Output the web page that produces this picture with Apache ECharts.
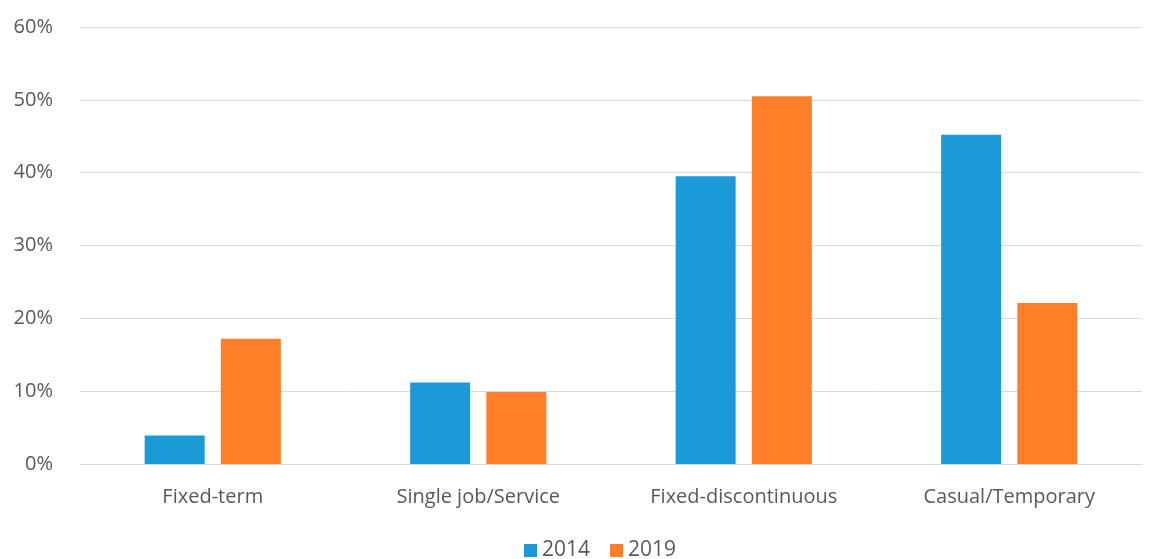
<!DOCTYPE html>
<html>
<head>
<meta charset="utf-8">
<script src="https://cdn.jsdelivr.net/npm/echarts@6/dist/echarts.min.js"></script>
<style>
html,body{margin:0;padding:0;background:#fff;}
#chart{width:1164px;height:559px;}
</style>
</head>
<body>
<div id="chart"></div>
<script>
const categories = ['Fixed-term', 'Single job/Service', 'Fixed-discontinuous', 'Casual/Temporary'];
const values2014 = [3.9, 11.2, 39.5, 45.2];
const values2019 = [17.2, 9.9, 50.5, 22.1];
const seriesNames = ['2014', '2019'];

const FONT = '"Open Sans", "Liberation Sans", sans-serif';
const chart = echarts.init(document.getElementById('chart'));
chart.setOption({
  animation: false,
  backgroundColor: '#ffffff',
  textStyle: { fontFamily: FONT },
  legend: {
    top: 540,
    left: 524,
    padding: 0,
    itemWidth: 13,
    itemHeight: 13,
    itemGap: 20,
    icon: 'rect',
    textStyle: { fontSize: 21, color: '#595959', fontFamily: FONT },
    data: seriesNames
  },
  grid: { left: 80, right: 22, top: 27, bottom: 95, containLabel: false },
  xAxis: {
    type: 'category',
    data: categories,
    axisLine: { show: true, lineStyle: { color: '#d9d9d9', width: 1 } },
    axisTick: { show: false },
    axisLabel: { fontSize: 20, color: '#595959', margin: 23, fontFamily: FONT }
  },
  yAxis: {
    type: 'value',
    min: 0,
    max: 60,
    interval: 10,
    axisLine: { show: false },
    axisTick: { show: false },
    splitLine: { lineStyle: { color: '#d9d9d9', width: 1 } },
    axisLabel: { fontSize: 20, color: '#595959', margin: 27, formatter: '{value}%', fontFamily: FONT }
  },
  series: [
    {
      name: seriesNames[0],
      type: 'bar',
      data: values2014,
      barWidth: 60,
      barGap: '27%',
      itemStyle: { color: '#1a9bd8' }
    },
    {
      name: seriesNames[1],
      type: 'bar',
      data: values2019,
      barWidth: 60,
      barGap: '27%',
      itemStyle: { color: '#fe7f27' }
    }
  ]
});
</script>
</body>
</html>
